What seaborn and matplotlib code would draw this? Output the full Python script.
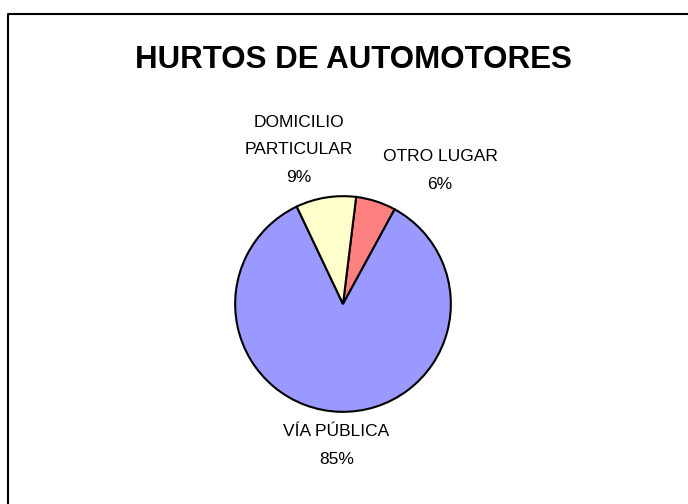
import matplotlib
matplotlib.use("Agg")
import matplotlib.pyplot as plt
import seaborn as sns

labels = ["OTRO LUGAR", "VÍA PÚBLICA", "DOMICILIO\nPARTICULAR"]
values = [6, 85, 9]
colors = ["#FF8080", "#9999FF", "#FFFFCC"]
title = "HURTOS DE AUTOMOTORES"

sns.set_style("white")
plt.rcParams["font.family"] = ["Liberation Sans", "DejaVu Sans"]

W, H = 688, 504
fig = plt.figure(figsize=(W / 100, H / 100), dpi=100)

# chart frame: only the top and left edges fall inside the picture
frame = fig.add_axes([0, 0, 1, 1])
frame.set_xlim(0, W)
frame.set_ylim(H, 0)
frame.axis("off")
frame.plot([8, 8, W], [H, 14, 14], color="black", lw=1.5)

# pie centred at (343, 304) px, radius 110 px
cx, cy, r = 343, 304, 110
ax = fig.add_axes([(cx - r) / W, (H - cy - r) / H, 2 * r / W, 2 * r / H])
ax.pie(values, colors=colors, startangle=83, counterclock=False,
       wedgeprops=dict(edgecolor="black", linewidth=1.5))
ax.set_xlim(-1.02, 1.02)
ax.set_ylim(-1.02, 1.02)

pct = [f"{v}%" for v in values]
label_pos = [(0.9, 1.24), (-0.06, -1.31), (-0.41, 1.43)]
for lab, p, (x, y) in zip(labels, pct, label_pos):
    ax.text(x, y, f"{lab}\n{p}", ha="center", va="center", fontsize=12.5,
            linespacing=2.05, color="black", clip_on=False)

fig.text(353 / W, 1 - 60 / H, title, ha="center", va="center", color="black",
         fontsize=22.5, fontweight="bold")

fig.savefig("out.png", dpi=100, facecolor="white")
